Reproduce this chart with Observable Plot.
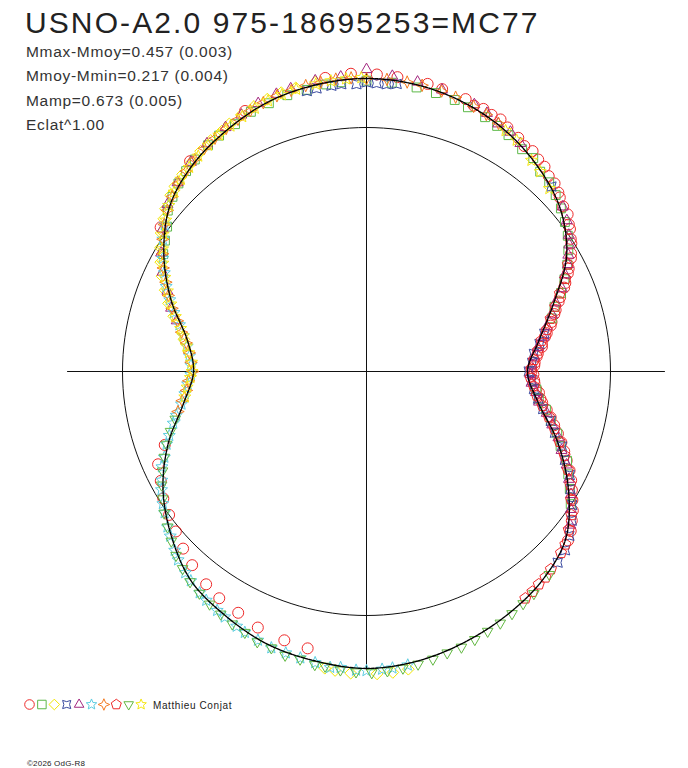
<!DOCTYPE html>
<html><head><meta charset="utf-8">
<script src="https://cdn.jsdelivr.net/npm/d3@7"></script>
<script src="https://cdn.jsdelivr.net/npm/@observablehq/plot@0.6"></script>
<style>
body{margin:0;background:#fff;}
#chart{width:688px;height:768px;}
</style></head><body><div id="chart"></div>
<script>
// ---- texts ----
const title = "USNO-A2.0 975-18695253=MC77";
const statLines = ["Mmax-Mmoy=0.457 (0.003)", "Mmoy-Mmin=0.217 (0.004)", "Mamp=0.673 (0.005)", "Eclat^1.00"];
const author = "Matthieu Conjat";
const copyright = "©2026 OdG-R8";

// ---- fitted light curve (phase in degrees, radius in units of the reference circle) ----
const fitPhase  = [0,10,20,30,40,50,60,70,80,90,100,110,120,130,140,150,160,170,180,190,200,210,220,230,240,250,260,270,280,290,300,310,320,330,340,350];
const fitRadius = [1.201,1.193,1.172,1.139,1.094,1.037,0.947,0.816,0.717,0.660,0.713,0.832,0.955,1.066,1.119,1.152,1.180,1.205,1.217,1.205,1.189,1.156,1.119,1.045,0.963,0.865,0.762,0.709,0.746,0.852,0.959,1.053,1.107,1.143,1.176,1.193];

// ---- sessions (observing nights) ----
const s1Phase  = [352,357,2,6,12,20,24,28,33,37,41,45,48,52,55,58,61,64,67,70,73,76,79,82,85,88,91,94,97,100,104,108,112,116,120,124,128,192,197,203,208,213,217,222,226,230,234,238,242,246,250,305,320,335,
                  15,22,26,30,35,39,43,47,50,54,57,60,63,66,69,72,75,78,81,84,87,90,93,96,99,102,106,110,114,118,122,126,130];
const s1Radius = [1.215,1.222,1.218,1.213,1.205,1.188,1.178,1.170,1.142,1.131,1.112,1.090,1.066,1.046,1.018,0.990,0.958,0.918,0.880,0.838,0.805,0.778,0.745,0.726,0.700,0.688,0.684,0.690,0.712,0.731,0.778,0.825,0.874,0.926,0.972,1.020,1.062,1.160,1.152,1.140,1.120,1.108,1.092,1.068,1.045,1.020,1.000,0.982,0.955,0.935,0.880,1.030,1.125,1.178,
                  1.198,1.175,1.170,1.155,1.128,1.118,1.095,1.075,1.052,1.025,0.998,0.968,0.930,0.892,0.850,0.815,0.785,0.755,0.728,0.706,0.690,0.676,0.688,0.700,0.722,0.755,0.800,0.850,0.898,0.950,0.995,1.040,1.078];

const s2Phase  = [5,10,18,25,31,38,44,50,56,62,68,74,96,102,108,114,120,300,306,312,318,325,332,340,348,355,
                  14,21,28,35,41,47,53,59,65,71,99,105,111,117,123,303,309,315,321,328,336,344,352,0];
const s2Radius = [1.188,1.182,1.170,1.150,1.130,1.110,1.078,1.040,0.995,0.932,0.860,0.790,0.700,0.752,0.822,0.900,0.962,0.962,1.010,1.070,1.105,1.132,1.148,1.170,1.180,1.190,
                  1.176,1.160,1.140,1.112,1.085,1.060,1.018,0.965,0.895,0.815,0.715,0.782,0.852,0.928,0.998,0.985,1.048,1.090,1.118,1.140,1.165,1.178,1.188,1.192];

const s3Phase  = [172,178,183,188,280,286,292,298,304,309,314,320,326,331,337,343,
                  289,295,301,307,312,317,323,329,334,340,346,350,175,186];
const s3Radius = [1.232,1.240,1.238,1.228,0.760,0.822,0.890,0.955,1.015,1.060,1.092,1.118,1.142,1.160,1.180,1.195,
                  0.858,0.925,0.985,1.040,1.080,1.105,1.130,1.150,1.170,1.188,1.198,1.205,1.238,1.232];

const s4Phase  = [348,353,358,2,6,45,78,84,90,96,102,108,114,120,126,132,
                  350,355,0,4,81,87,93,99,105,111,117,123,129,135];
const s4Radius = [1.175,1.180,1.178,1.182,1.185,1.072,0.745,0.690,0.665,0.690,0.740,0.812,0.890,0.965,1.040,1.095,
                  1.178,1.182,1.185,1.180,0.718,0.680,0.678,0.712,0.782,0.858,0.935,1.005,1.070,1.108];

const s5Phase  = [355,0,10,22,28,34,50,56,60,64,70,76,82,88,94,100,106,112,118,124,285,292,300,310,320,330,338,345,
                  5,15,25,31,53,58,62,67,73,79,85,91,97,103,109,115,121,127,288,296,305,315,325,334,342,350];
const s5Radius = [1.212,1.238,1.205,1.180,1.150,1.128,1.050,1.000,0.955,0.905,0.825,0.762,0.710,0.675,0.678,0.718,0.792,0.862,0.940,1.010,0.805,0.880,0.972,1.065,1.120,1.155,1.185,1.200,
                  1.215,1.195,1.168,1.145,1.028,0.980,0.935,0.870,0.795,0.738,0.690,0.672,0.700,0.758,0.832,0.905,0.978,1.045,0.842,0.930,1.020,1.095,1.140,1.170,1.195,1.210];

const s6Phase  = [172,177,182,187,193,199,205,210,215,220,225,230,235,240,245,250,255,260,266,272,278,284,290,296,303,310,
                  175,180,185,190,196,202,207,212,217,222,227,232,237,242,247,252,257,263,269,275,281,287,293,299,306];
const s6Radius = [1.215,1.222,1.225,1.222,1.205,1.198,1.180,1.162,1.145,1.120,1.092,1.050,1.010,0.970,0.925,0.872,0.820,0.770,0.735,0.720,0.742,0.790,0.858,0.922,0.995,1.058,
                  1.220,1.226,1.218,1.212,1.200,1.188,1.172,1.155,1.136,1.110,1.075,1.035,0.995,0.950,0.900,0.850,0.800,0.750,0.720,0.728,0.765,0.825,0.892,0.955,1.022];

const s7Phase  = [258,264,270,276,282,288,294,300,306,312,318,324,330,336,342,348,354,0,8,15,22,28,
                  261,267,273,279,285,291,297,303,309,315,321,327,333,339,345,351,357,4,11,18,25];
const s7Radius = [0.790,0.742,0.712,0.730,0.775,0.838,0.900,0.965,1.025,1.072,1.105,1.130,1.150,1.170,1.188,1.198,1.205,1.200,1.198,1.190,1.172,1.152,
                  0.765,0.730,0.720,0.748,0.802,0.870,0.935,0.995,1.050,1.090,1.118,1.140,1.160,1.180,1.192,1.200,1.205,1.200,1.195,1.182,1.162];

const s8Phase  = [62,68,74,80,86,92,98,104,110,116,122,128,133,137,141,145,
                  65,71,77,83,89,95,101,107,113,119,125,131,139,143];
const s8Radius = [0.935,0.855,0.785,0.728,0.688,0.672,0.705,0.770,0.842,0.918,0.988,1.052,1.090,1.108,1.122,1.135,
                  0.900,0.818,0.758,0.708,0.676,0.688,0.735,0.806,0.882,0.955,1.025,1.080,1.118,1.130];

const s9Phase  = [138,143,149,155,161,167,173,179,185,190,196,202,208,214,220,226,232,238,244,250,256,
                  146,152,158,164,170,176,182,188,193,199,205,211,217,223,229,235,241,247,253];
const s9Radius = [1.120,1.140,1.158,1.175,1.195,1.210,1.225,1.235,1.228,1.220,1.210,1.195,1.172,1.150,1.125,1.085,1.035,0.985,0.930,0.872,0.808,
                  1.148,1.168,1.185,1.200,1.218,1.230,1.232,1.220,1.210,1.198,1.180,1.160,1.138,1.105,1.060,1.012,0.960,0.900,0.840];

const s10Phase  = [30,38,45,262,268,273,278,283,289,295,301,307,313,319,325,331,337,343,350,356,
                   33,41,265,270,276,281,286,292,298,304,310,316,322,328,334,340,346,353,359];
const s10Radius = [1.140,1.098,1.060,0.752,0.722,0.718,0.745,0.782,0.848,0.912,0.975,1.030,1.078,1.108,1.132,1.150,1.172,1.186,1.196,1.202,
                   1.130,1.085,0.738,0.715,0.732,0.765,0.815,0.880,0.945,1.005,1.058,1.095,1.120,1.142,1.162,1.180,1.192,1.200,1.204];

const axisExtent = 1.225;

// ---- custom marker shapes ----
const pentagon = {draw(c, size){const R=Math.sqrt(size/Math.PI)*1.1;for(let k=0;k<5;k++){const a=-Math.PI/2+k*2*Math.PI/5;const px=R*Math.cos(a),py=R*Math.sin(a);k?c.lineTo(px,py):c.moveTo(px,py);}c.closePath();}};
const triDown = {draw(c, size){const R=Math.sqrt(size/Math.PI)*1.15;c.moveTo(0,R);c.lineTo(-R*0.866,-R*0.5);c.lineTo(R*0.866,-R*0.5);c.closePath();}};
const triUp = {draw(c, size){const R=Math.sqrt(size/Math.PI)*1.15;c.moveTo(0,-R);c.lineTo(R*0.866,R*0.5);c.lineTo(-R*0.866,R*0.5);c.closePath();}};
const star5 = {draw(c, size){const R=Math.sqrt(size/Math.PI)*1.15,ri=R*0.45;for(let k=0;k<10;k++){const a=-Math.PI/2+k*Math.PI/5;const rr=k%2?ri:R;const px=rr*Math.cos(a),py=rr*Math.sin(a);k?c.lineTo(px,py):c.moveTo(px,py);}c.closePath();}};
const star4 = {draw(c, size){const R=Math.sqrt(size/Math.PI)*1.2,q=R*0.3;c.moveTo(0,-R);c.lineTo(q,-q);c.lineTo(R,0);c.lineTo(q,q);c.lineTo(0,R);c.lineTo(-q,q);c.lineTo(-R,0);c.lineTo(-q,-q);c.closePath();}};
const astroid = {draw(c, size){const R=Math.sqrt(size/Math.PI)*0.85,q=R*0.4;c.moveTo(-R,-R);c.quadraticCurveTo(0,-q,R,-R);c.quadraticCurveTo(q,0,R,R);c.quadraticCurveTo(0,q,-R,R);c.quadraticCurveTo(-q,0,-R,-R);c.closePath();}};

const sessionDefs = [
  {phase:s1Phase, radius:s1Radius, symbol:d3.symbolCircle, color:"#ee2a2a", r:5.5},
  {phase:s2Phase, radius:s2Radius, symbol:d3.symbolSquare, color:"#5cb848", r:5.0},
  {phase:s3Phase, radius:s3Radius, symbol:d3.symbolDiamond2, color:"#f2e600", r:5.3},
  {phase:s4Phase, radius:s4Radius, symbol:astroid, color:"#3a4aa0", r:5.5},
  {phase:s5Phase, radius:s5Radius, symbol:triUp, color:"#a3267f", r:5.5},
  {phase:s6Phase, radius:s6Radius, symbol:star5, color:"#5ccde0", r:5.5},
  {phase:s7Phase, radius:s7Radius, symbol:star4, color:"#f47a20", r:5.2},
  {phase:s8Phase, radius:s8Radius, symbol:pentagon, color:"#ee2a2a", r:5.3},
  {phase:s9Phase, radius:s9Radius, symbol:triDown, color:"#62b842", r:5.3},
  {phase:s10Phase, radius:s10Radius, symbol:star5, color:"#f5e614", r:5.5}
];

const rad = Math.PI/180;
const polar = (ph, r) => ({x: r*Math.sin(ph*rad), y: r*Math.cos(ph*rad)});
const fit = fitPhase.map((p,i) => polar(p, fitRadius[i]));
const refCircle = d3.range(0, 360, 2).map(a => polar(a, 1));

const marks = [
  Plot.line(refCircle, {x:"x", y:"y", curve:"linear-closed", stroke:"#111", strokeWidth:1}),
  Plot.ruleY([0], {x1:-axisExtent, x2:axisExtent, stroke:"#111", strokeWidth:1}),
  Plot.ruleX([0], {y1:-axisExtent, y2:axisExtent, stroke:"#111", strokeWidth:1})
];
sessionDefs.forEach((s, i) => {
  const pts = s.phase.map((p,j) => polar(p, s.radius[j]));
  marks.push(Plot.dot(pts, {x:"x", y:"y", symbol:s.symbol, stroke:s.color, r:s.r, strokeWidth:1}));
});
marks.push(Plot.line(fit, {x:"x", y:"y", curve:"catmull-rom-closed", stroke:"#000", strokeWidth:1.4, strokeDasharray:"3,1.2"}));
// legend
sessionDefs.forEach((s, i) => {
  marks.push(Plot.dot([0], {frameAnchor:"top-left", dx:29 + i*12.4, dy:704, symbol:s.symbol, stroke:s.color, r:4.8, strokeWidth:1}));
});

const chart = Plot.plot({
  width:688, height:768, margin:0,
  x:{domain:[-1,1], range:[122,610], axis:null},
  y:{domain:[-1,1], range:[615,127], axis:null},
  style:{background:"#fff", fontFamily:"'Liberation Sans', Arial, sans-serif"},
  marks
});
document.getElementById("chart").appendChild(chart);

const svg = d3.select(chart);
const ff = "'Liberation Sans', Arial, sans-serif";
const addText = (x, y, size, ls, fill, t) => svg.append("text").attr("x",x).attr("y",y)
  .attr("font-size",size).attr("letter-spacing",ls).attr("text-anchor","start")
  .attr("fill",fill).attr("font-family",ff).text(t);
addText(25, 33, 30, 2.1, "#222", title);
statLines.forEach((t,i) => addText(26, 57 + i*24.4, 15.5, 0.7, "#333", t));
addText(153, 709, 10, 0.6, "#222", author);
addText(27, 766, 8, 0.2, "#222", copyright);
</script></body></html>
